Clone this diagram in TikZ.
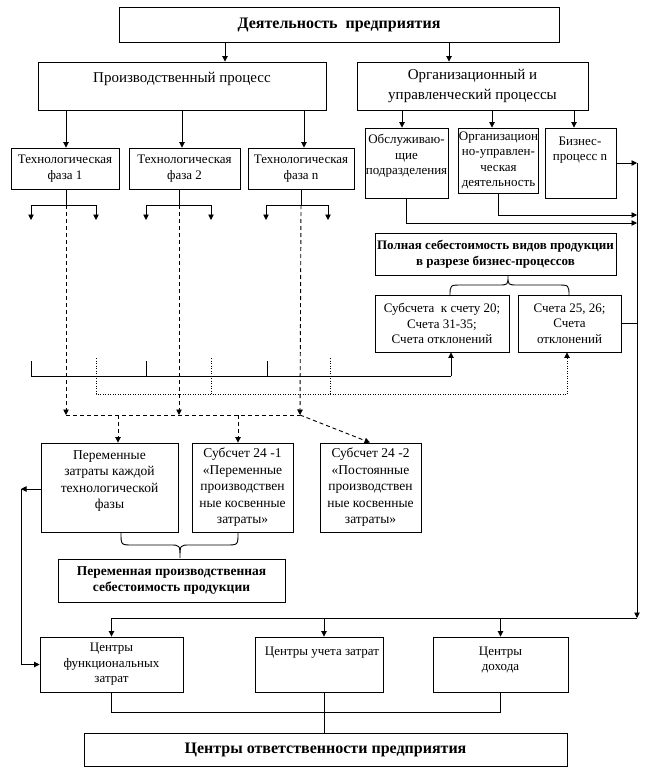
\documentclass[tikz,border=0pt]{standalone}
\usepackage{fontspec}
\setmainfont{Liberation Serif}
\usetikzlibrary{arrows.meta,calc}
\newcommand\mkbox[7]{\node[box,#1,minimum width={#5-#3},minimum height={#6-#4}] (#2) at ({(#3+#5)/2},{(#4+#6)/2}) {#7};}
\begin{document}
\begin{tikzpicture}[x=1pt,y=-1pt,line width=0.9pt,
  box/.style={draw,line width=0.9pt,inner sep=0pt,align=center},
  txt/.style={inner sep=0pt,align=center},
  fn/.style={font=\fontsize{13}{15.5}\selectfont},
  fs/.style={font=\fontsize{13.5}{16.5}\selectfont},
  fl/.style={font=\fontsize{15}{20}\selectfont},
  fb/.style={font=\bfseries\fontsize{13}{15.5}\selectfont},
  fbm/.style={font=\bfseries\fontsize{13.5}{15.5}\selectfont},
  fbl/.style={font=\bfseries\fontsize{16}{18}\selectfont},
  arr/.style={-{Triangle[length=5.5pt,width=5.5pt]}},
  dsh/.style={dash pattern=on 4pt off 3pt},
  dot/.style={dash pattern=on 1pt off 1.5pt}]
\fill[white] (0,0) rectangle (655,781);
\useasboundingbox (0,0) rectangle (655,781);
% boxes
\mkbox{fbl}{top}{119}{7}{559}{42}{Деятельность\ \ предприятия}
\mkbox{}{prod}{38}{62}{326}{110}{}
\node[txt,fl] (prodt) at (182,79) {Производственный процесс};
\mkbox{fl}{org}{357}{62}{588}{110}{Организационный и\\управленческий процессы}
\mkbox{fn}{ph1}{11}{148}{119}{189}{Технологическая\\фаза 1}
\mkbox{fn}{ph2}{129}{148}{240}{189}{Технологическая\\фаза 2}
\mkbox{fn}{ph3}{248}{148}{354}{189}{Технологическая\\фаза n}
\mkbox{}{obsl}{365}{128}{448}{198}{}
\node[txt,fn] (obslt) at (406.5,156) {Обслуживаю-\\щие\\подразделения};
\mkbox{fn}{orgupr}{459}{128}{538}{193}{Организацион\\но-управлен-\\ческая\\деятельность}
\mkbox{}{biz}{545}{128}{616}{198}{}
\node[txt,fn] (bizt) at (580,150) {Бизнес-\\процесс n};
\mkbox{fb}{poln}{375}{233}{616}{275}{Полная себестоимость видов продукции\\в разрезе бизнес-процессов}
\mkbox{fn}{sub20}{375}{295}{509}{352}{Субсчета\ \ к счету 20;\\Счета 31-35;\\Счета отклонений}
\mkbox{fn}{sch25}{518}{295}{621}{352}{Счета 25, 26;\\Счета\\отклонений}
\mkbox{}{per}{41}{443}{178}{532}{}
\node[txt,fs] (pert) at (109.5,481) {Переменные\\затраты каждой\\технологической\\фазы};
\mkbox{fs}{s241}{192}{443}{293}{532}{Субсчет 24 -1\\«Переменные\\производствен\\ные косвенные\\затраты»}
\mkbox{fs}{s242}{320}{443}{421}{532}{Субсчет 24 -2\\«Постоянные\\производствен\\ные косвенные\\затраты»}
\mkbox{fbm}{pervar}{58}{559}{285}{602}{Переменная производственная\\себестоимость продукции}
\mkbox{fn}{cfun}{40}{637}{183}{692}{Центры\\функциональных\\затрат}
\mkbox{}{cuch}{255}{637}{383}{692}{}
\node[txt,fn] (cucht) at (322,653) {Центры учета затрат};
\mkbox{}{cdoh}{433}{637}{568}{692}{}
\node[txt,fn] (cdoht) at (500.5,660) {Центры\\дохода};
\mkbox{fbl}{cotv}{84}{733}{567}{766}{Центры ответственности предприятия}
% top connectors
\coordinate (xa) at (225,0); \coordinate (xb) at (449,0);
\draw[arr] (top.south -| xa) -- (prod.north -| xa);
\draw[arr] (top.south -| xb) -- (org.north -| xb);
\coordinate (xp1) at (66,0); \coordinate (xp2) at (182,0); \coordinate (xp3) at (304,0);
\draw[arr] (prod.south -| xp1) -- (ph1.north -| xp1);
\draw[arr] (prod.south -| xp2) -- (ph2.north -| xp2);
\draw[arr] (prod.south -| xp3) -- (ph3.north -| xp3);
\coordinate (xo1) at (402,0); \coordinate (xo2) at (492,0); \coordinate (xo3) at (574,0);
\draw[arr] (org.south -| xo1) -- (obsl.north -| xo1);
\draw[arr] (org.south -| xo2) -- (orgupr.north -| xo2);
\draw[arr] (org.south -| xo3) -- (biz.north -| xo3);
% forks
\coordinate (s1) at (66,205); \coordinate (s2) at (179,205); \coordinate (s3) at (301,205);
\coordinate (fl1) at (31,205); \coordinate (fr1) at (96,205);
\coordinate (fl2) at (146,205); \coordinate (fr2) at (211,205);
\coordinate (fl3) at (266,205); \coordinate (fr3) at (328,205);
\draw (ph1.south -| s1) -- (s1); \draw (ph2.south -| s2) -- (s2); \draw (ph3.south -| s3) -- (s3);
\draw (fl1) -- (fr1); \draw (fl2) -- (fr2); \draw (fl3) -- (fr3);
\foreach \c in {fl1,fr1,fl2,fr2,fl3,fr3} {\draw[arr] (\c) -- ++(0,15);}
% dashed
\coordinate (d1) at (66,415); \coordinate (d2) at (179,415); \coordinate (d3) at (300,415);
\draw[dsh,arr] (s1) -- (d1);
\draw[dsh,arr] (s2) -- (d2);
\draw[dsh,arr] (s3) -- (d3);
\draw[dsh] (d1) -- (d3);
\coordinate (dp) at (118,415); \coordinate (ds) at (238,415); \coordinate (x370) at (370,0);
\draw[dsh,arr] (dp) -- (per.north -| dp);
\draw[dsh,arr] (ds) -- (s241.north -| ds);
\draw[dsh,arr] (d3) -- (s242.north -| x370);
% solid collector
\coordinate (hs) at (451,376);
\draw (31,361) -- (31,376) -- (hs);
\draw (146,361) -- (146,376);
\draw (267,361) -- (267,376);
\draw[arr] (hs) -- (sub20.south -| hs);
% dotted collector
\coordinate (hd) at (567,394);
\draw[dot] (96,358) -- (96,394) -- (hd);
\draw[dot] (211,358) -- (211,394);
\draw[dot] (330,358) -- (330,394);
\draw[dot,arr] (hd) -- (sch25.south -| hd);
% braces
\draw (450,296) .. controls (450,285) .. (462,285) -- (498,285) .. controls (508,285) .. (508,276) .. controls (508,285) .. (518,285) -- (557,285) .. controls (569,285) .. (569,296);
\draw (121,533) .. controls (121,545) .. (133,545) -- (170,545) .. controls (180,545) .. (180,558) .. controls (180,545) .. (190,545) -- (226,545) .. controls (238,545) .. (238,533);
% right side
\coordinate (r1) at (637,163); \coordinate (r2) at (637,618);
\coordinate (r215) at (637,215); \coordinate (r223) at (637,223);
\draw[arr] (biz.east) -- (r1);
\draw[arr] (obsl.south) |- (r223);
\draw[arr] (orgupr.south) |- (r215);
\draw[arr] (r1) -- (r2);
\draw (sch25.east) -- (sch25.east -| r1);
\draw (r2) -- (cfun.north |- r2);
\coordinate (xu) at (324,0);
\draw[arr] (cfun.north |- r2) -- (cfun.north);
\draw[arr] (xu |- r2) -- (cuch.north -| xu);
\draw[arr] (cdoh.north |- r2) -- (cdoh.north);
% bottom
\coordinate (yb) at (0,712);
\draw (cfun.south) -- (cfun.south |- yb) -- (cdoh.south |- yb) -- (cdoh.south);
\draw (cuch.south -| xu) -- (cotv.north -| xu);
% left loop
\coordinate (l1) at (21,489);
\draw[arr] (per.west |- l1) -- (l1);
\draw[arr] (l1) |- (cfun.west);
\end{tikzpicture}
\end{document}
